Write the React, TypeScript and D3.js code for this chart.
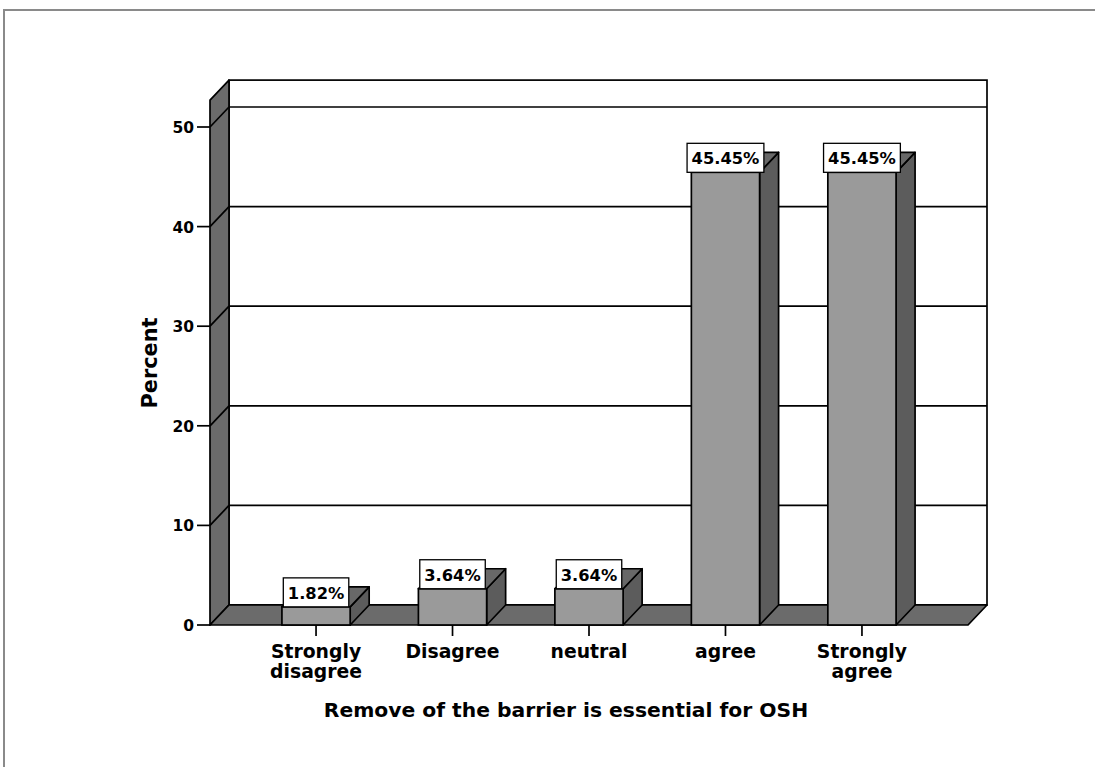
import React from "react";
import * as d3 from "d3";

const categories: string[][] = [
  ["Strongly", "disagree"],
  ["Disagree"],
  ["neutral"],
  ["agree"],
  ["Strongly", "agree"],
];
const categoryKeys = ["Strongly disagree", "Disagree", "neutral", "agree", "Strongly agree"];
const percentValues = [1.82, 3.64, 3.64, 45.45, 45.45];
const yTicks = [0, 10, 20, 30, 40, 50];
const yAxisTitle = "Percent";
const xAxisTitle = "Remove of the barrier is essential for OSH";

const W = 1095;
const H = 767;
const FONT = "'DejaVu Sans', Verdana, sans-serif";

let ctx: CanvasRenderingContext2D | null = null;
function textWidth(s: string, size: number): number {
  if (!ctx && typeof document !== "undefined") {
    ctx = document.createElement("canvas").getContext("2d");
  }
  if (!ctx) return s.length * size * 0.65;
  ctx.font = `bold ${size}px 'DejaVu Sans'`;
  return ctx.measureText(s).width;
}

export default function App() {
  const x0 = 210;
  const x1 = 968;
  const yBase = 625;
  const dx = 19;
  const dy = -20;
  const wallTopValue = 52.7;

  const y = d3.scaleLinear().domain([0, 50]).range([yBase, 127]);
  const x = d3
    .scaleBand<string>()
    .domain(categoryKeys)
    .range([x0, x1])
    .paddingInner(0.5)
    .paddingOuter(0.527);

  const bw = x.bandwidth();
  const wallColor = "#6b6b6b";
  const barFront = "#9a9a9a";
  const barSide = "#5c5c5c";
  const barTop = "#686868";
  const sw = 1.7;
  const labelSize = 16.3;

  const yTop = y(wallTopValue);
  const poly = (pts: [number, number][]) => pts.map((p) => p.join(",")).join(" ");

  return (
    <svg
      width={W}
      height={H}
      style={{ position: "absolute", left: 0, top: 0, background: "#fff" }}
      fontFamily={FONT}
    >
      {/* outer frame */}
      <rect x={4} y={10} width={W + 20} height={H + 20} fill="#fff" stroke="#8a8a8a" strokeWidth={2} />

      {/* back wall */}
      <rect
        x={x0 + dx}
        y={yTop + dy}
        width={x1 - x0}
        height={yBase - yTop}
        fill="#fff"
        stroke="#000"
        strokeWidth={sw}
      />
      {yTicks.map((t) => (
        <line
          key={"g" + t}
          x1={x0 + dx}
          x2={x1 + dx}
          y1={y(t) + dy}
          y2={y(t) + dy}
          stroke="#000"
          strokeWidth={sw}
        />
      ))}

      {/* left wall */}
      <polygon
        points={poly([
          [x0, yTop],
          [x0 + dx, yTop + dy],
          [x0 + dx, yBase + dy],
          [x0, yBase],
        ])}
        fill={wallColor}
        stroke="#000"
        strokeWidth={sw}
        strokeLinejoin="round"
      />
      {yTicks.map((t) => (
        <line
          key={"d" + t}
          x1={x0}
          y1={y(t)}
          x2={x0 + dx}
          y2={y(t) + dy}
          stroke="#000"
          strokeWidth={sw}
        />
      ))}

      {/* floor */}
      <polygon
        points={poly([
          [x0, yBase],
          [x0 + dx, yBase + dy],
          [x1 + dx, yBase + dy],
          [x1, yBase],
        ])}
        fill={wallColor}
        stroke="#000"
        strokeWidth={sw}
        strokeLinejoin="round"
      />

      {/* bars */}
      {categoryKeys.map((c, i) => {
        const bx = x(c)!;
        const v = percentValues[i];
        const top = y(v);
        return (
          <g key={"b" + c}>
            <polygon
              points={poly([
                [bx + bw, top],
                [bx + bw + dx, top + dy],
                [bx + bw + dx, yBase + dy],
                [bx + bw, yBase],
              ])}
              fill={barSide}
              stroke="#000"
              strokeWidth={sw}
              strokeLinejoin="round"
            />
            <polygon
              points={poly([
                [bx, top],
                [bx + dx, top + dy],
                [bx + bw + dx, top + dy],
                [bx + bw, top],
              ])}
              fill={barTop}
              stroke="#000"
              strokeWidth={sw}
              strokeLinejoin="round"
            />
            <rect x={bx} y={top} width={bw} height={yBase - top} fill={barFront} stroke="#000" strokeWidth={sw} />
          </g>
        );
      })}

      {/* value labels */}
      {categoryKeys.map((c, i) => {
        const cx = x(c)! + bw / 2;
        const v = percentValues[i];
        const top = y(v);
        const label = v.toFixed(2) + "%";
        const boxW = textWidth(label, labelSize) + 9;
        const boxH = 29;
        return (
          <g key={"l" + c}>
            <rect x={cx - boxW / 2} y={top - boxH} width={boxW} height={boxH} fill="#fff" stroke="#000" strokeWidth={1.3} />
            <text x={cx} y={top - 8} textAnchor="middle" fontSize={labelSize} fontWeight="bold" fill="#000">
              {label}
            </text>
          </g>
        );
      })}

      {/* y axis ticks */}
      {yTicks.map((t) => (
        <g key={"t" + t}>
          <line x1={197} x2={x0} y1={y(t)} y2={y(t)} stroke="#000" strokeWidth={sw} />
          <text x={194} y={y(t) + 6} textAnchor="end" fontSize={15.5} fontWeight="bold" fill="#000">
            {t}
          </text>
        </g>
      ))}

      {/* x axis ticks and labels */}
      {categoryKeys.map((c, i) => {
        const cx = x(c)! + bw / 2;
        return (
          <g key={"x" + c}>
            <line x1={cx} x2={cx} y1={yBase} y2={yBase + 11} stroke="#000" strokeWidth={sw} />
            {categories[i].map((ln, j) => (
              <text key={j} x={cx} y={658 + j * 19.5} textAnchor="middle" fontSize={18.8} fontWeight="bold" fill="#000">
                {ln}
              </text>
            ))}
          </g>
        );
      })}

      {/* axis titles */}
      <text
        transform={`translate(157,363) rotate(-90)`}
        textAnchor="middle"
        fontSize={20.8}
        fontWeight="bold"
        fill="#000"
      >
        {yAxisTitle}
      </text>
      <text x={566} y={717} textAnchor="middle" fontSize={20.3} fontWeight="bold" fill="#000">
        {xAxisTitle}
      </text>
    </svg>
  );
}
